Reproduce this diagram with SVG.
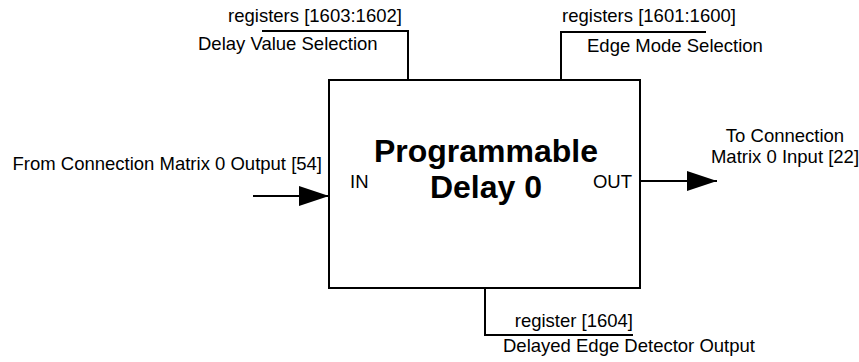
<svg xmlns="http://www.w3.org/2000/svg" width="859" height="362" viewBox="0 0 859 362">
<style>
text{font-family:"Liberation Sans",Arial,sans-serif;font-size:18.5px;fill:#000}
.t{font-size:32px;font-weight:bold}
.ln{stroke:#000;stroke-width:2;fill:none}
</style>
<defs>
<marker id="ah" viewBox="0 0 30 20" refX="30" refY="10" markerWidth="30" markerHeight="20" markerUnits="userSpaceOnUse" orient="auto">
<path d="M0,0L30,10L0,20Z" fill="#000"/>
</marker>
</defs>
<rect width="859" height="362" fill="#fff"/>
<g id="connectors">
<polyline class="ln" points="262,31 408,31 408,80"/>
<polyline class="ln" points="706,32 561,32 561,80"/>
<polyline class="ln" points="485,288 485,335 633,335"/>
<line class="ln" x1="253" y1="196" x2="329" y2="196" marker-end="url(#ah)"/>
<line class="ln" x1="640" y1="181" x2="717" y2="181" marker-end="url(#ah)"/>
</g>
<g id="delay0">
<rect class="ln" x="329" y="80" width="311" height="208"/>
<text class="t" x="486" y="162" text-anchor="middle">Programmable</text>
<text class="t" x="486" y="198" text-anchor="middle">Delay 0</text>
<text x="350" y="188">IN</text>
<text x="632" y="188" text-anchor="end">OUT</text>
</g>
<g id="labels">
<text x="315" y="22" text-anchor="middle">registers [1603:1602]</text>
<text x="198" y="50">Delay Value Selection</text>
<text x="649" y="22" text-anchor="middle">registers [1601:1600]</text>
<text x="587" y="52">Edge Mode Selection</text>
<text x="322" y="170" text-anchor="end">From Connection Matrix 0 Output [54]</text>
<text x="785" y="142" text-anchor="middle">To Connection</text>
<text x="785" y="163" text-anchor="middle">Matrix 0 Input [22]</text>
<text x="633" y="327" text-anchor="end">register [1604]</text>
<text x="503" y="352">Delayed Edge Detector Output</text>
</g>
</svg>
